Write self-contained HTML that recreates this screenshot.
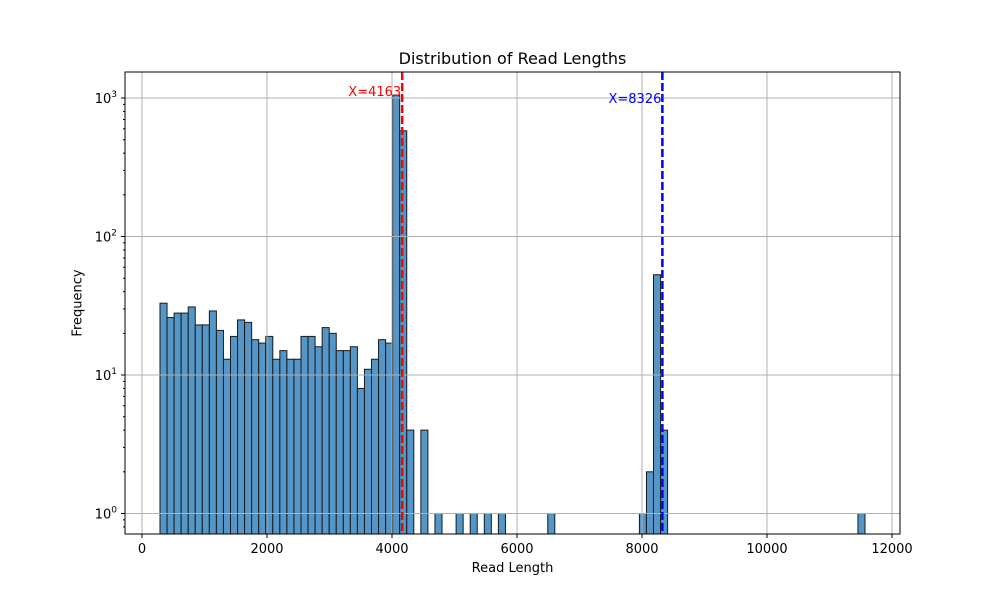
<!DOCTYPE html>
<html><head><meta charset="utf-8"><style>
body{margin:0;background:#fff;}
svg{font-family:"DejaVu Sans","Liberation Sans",sans-serif;}
</style></head><body>
<svg id="chart" width="1000" height="600"></svg>
<script>
const binMin = 288;
const binMax = 11568;
const nBins = 100;
const counts = new Array(100).fill(0);
const leftCounts = [33,26,28,28,31,23,23,29,21,13,19,25,24,18,17,19,13,15,13,13,19,19,16,22,20,15,15,16,8,11,13,18,17,1050,580,4,0,4];
const singleBins = [39,42,44,46,48,55,68,99];
const rightBins = [69,70,71];
const rightCounts = [2,53,4];
const xTicks = [0,2000,4000,6000,8000,10000,12000];
const yTickExps = [0,1,2,3];
const vlines = [4163, 8326];
const vlineColors = ['red','blue'];

leftCounts.forEach((c,i)=>counts[i]=c);
singleBins.forEach(b=>counts[b]=1);
rightBins.forEach((b,i)=>counts[b]=rightCounts[i]);

const L=125,R=900,T=72,B=534;
const xs=v=>142+v*0.0625;
const lyMin=-0.148, lyMax=3.188;
const ys=v=>B-(Math.log10(v)-lyMin)/(lyMax-lyMin)*(B-T);
const NS='http://www.w3.org/2000/svg';
const svg=document.getElementById('chart');
function mk(tag,attrs,parent){const e=document.createElementNS(NS,tag);for(const k in attrs)e.setAttribute(k,attrs[k]);(parent||svg).appendChild(e);return e;}

// bars
const w=(binMax-binMin)/nBins;
counts.forEach((c,i)=>{
  if(c<=0)return;
  const x0=xs(binMin+i*w), x1=xs(binMin+(i+1)*w);
  const r=mk('rect',{x:x0,y:ys(c),width:x1-x0,height:B-ys(c),fill:'#4a90c4','fill-opacity':0.95,stroke:'#1a1a1a','stroke-width':1});
  
  
});
// grid (drawn above bars)
xTicks.forEach(t=>{
  const g=mk('line',{x1:xs(t),x2:xs(t),y1:T,y2:B,stroke:'#b0b0b0','stroke-width':1});
  
  
});
yTickExps.forEach(e=>{
  const g=mk('line',{x1:L,x2:R,y1:ys(Math.pow(10,e)),y2:ys(Math.pow(10,e)),stroke:'#b0b0b0','stroke-width':1});
  
  
});
// vlines
vlines.forEach((v,i)=>{
  const l=mk('line',{x1:xs(v),x2:xs(v),y1:T,y2:B,stroke:vlineColors[i],'stroke-width':2.5,'stroke-dasharray':'8,3'});
  
  
  const t=mk('text',{x:xs(v)-1,y:i==0?96:103,fill:vlineColors[i],'font-size':13,'text-anchor':'end'});
  t.textContent='X='+v;
  
  
});
// axes box
const box=mk('rect',{x:L,y:T,width:R-L,height:B-T,fill:'none',stroke:'#000','stroke-width':1});


xTicks.forEach(t=>{
  mk('line',{x1:xs(t),x2:xs(t),y1:B,y2:B+4,stroke:'#000'});
  const tx=mk('text',{x:xs(t),y:B+19,'font-size':13,'text-anchor':'middle'});
  tx.textContent=t;
  
  
});
yTickExps.forEach(e=>{
  const y=ys(Math.pow(10,e));
  mk('line',{x1:L-4,x2:L,y1:y,y2:y,stroke:'#000'});
  const tx=mk('text',{x:L-8,y:y+5,'font-size':13,'text-anchor':'end'});
  tx.innerHTML='10<tspan dy="-6" font-size="9">'+e+'</tspan>';
  
  
});
for(let e=-1;e<=3;e++){for(let m=2;m<10;m++){const v=m*Math.pow(10,e);const y=ys(v);if(y<T||y>B)continue;mk('line',{x1:L-2,x2:L,y1:y,y2:y,stroke:'#000'});}}
</script>
<div style="position:absolute;left:0;top:0;width:1000px;height:600px;pointer-events:none">
<div style="position:absolute;top:49px;left:125px;width:775px;text-align:center;font:16px 'DejaVu Sans',sans-serif;">Distribution of Read Lengths</div>
<div style="position:absolute;top:561px;left:125px;width:775px;text-align:center;font:13px 'DejaVu Sans',sans-serif;">Read Length</div>
<div style="position:absolute;top:303px;left:78px;transform:translate(-50%,-50%) rotate(-90deg);font:13px 'DejaVu Sans',sans-serif;white-space:nowrap;">Frequency</div>
</div>
</body></html>
